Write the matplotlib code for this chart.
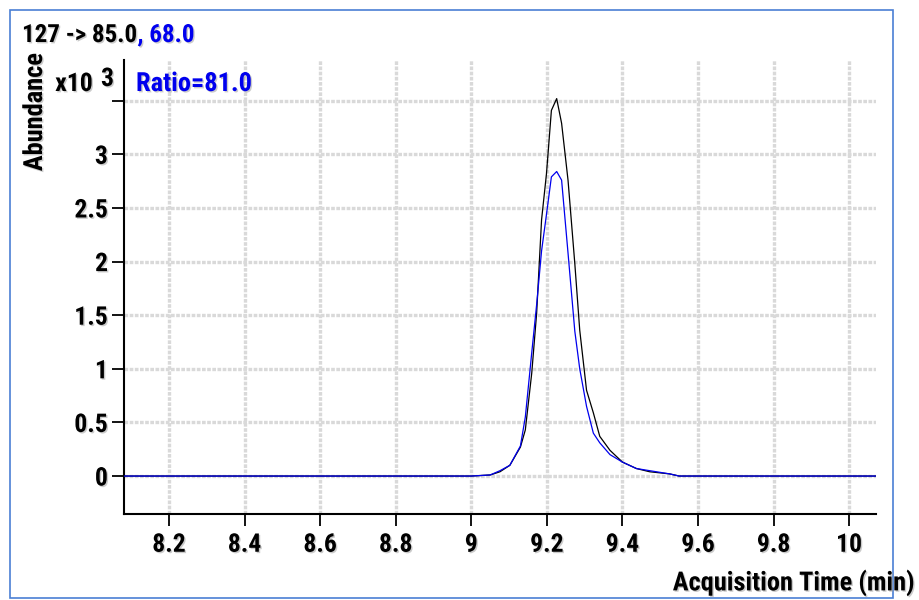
import matplotlib
matplotlib.use("Agg")
import matplotlib.pyplot as plt
import matplotlib.patheffects as pe
from matplotlib.patches import Rectangle

# Data (abundance in units of x10^3)
time_min = [8.08, 9.00, 9.05, 9.076, 9.102, 9.13, 9.143, 9.16, 9.173, 9.186,
            9.199, 9.212, 9.226, 9.239, 9.256, 9.274, 9.287, 9.305, 9.323, 9.34,
            9.367, 9.40, 9.437, 9.472, 9.525, 9.55, 10.07]
quant_85 = [0, 0, 0.01, 0.04, 0.10, 0.27, 0.43, 0.96, 1.52, 2.39,
            2.82, 3.41, 3.52, 3.29, 2.76, 1.98, 1.36, 0.80, 0.59, 0.37,
            0.24, 0.13, 0.07, 0.04, 0.02, 0, 0]
qual_68 = [0, 0, 0.01, 0.05, 0.10, 0.28, 0.55, 1.15, 1.60, 2.10,
           2.44, 2.79, 2.84, 2.76, 2.08, 1.35, 1.00, 0.65, 0.40, 0.31,
           0.20, 0.13, 0.07, 0.05, 0.02, 0, 0]

x_ticks = [8.2, 8.4, 8.6, 8.8, 9.0, 9.2, 9.4, 9.6, 9.8, 10.0]
x_labels = ["8.2", "8.4", "8.6", "8.8", "9", "9.2", "9.4", "9.6", "9.8", "10"]
y_ticks = [0, 0.5, 1, 1.5, 2, 2.5, 3, 3.5]
y_labels = ["0", "0.5", "1", "1.5", "2", "2.5", "3", ""]

plt.rcParams["font.family"] = ["Roboto Condensed", "DejaVu Sans"]
plt.rcParams["font.weight"] = "bold"

shadow = [pe.withSimplePatchShadow(offset=(1, -1), shadow_rgbFace="#999999", alpha=0.5)]
BLUE = "#0000ee"

fig = plt.figure(figsize=(9.19, 6), dpi=100)
W, H = 919, 600

# blue frame around the panel
fig.patches.append(Rectangle((10 / W, 2 / H), 883 / W, 588 / H, transform=fig.transFigure,
                             fill=False, edgecolor="#4a7fd4", linewidth=1.2))

ax = fig.add_axes([124 / W, 1 - 514 / H, 752 / W, 454 / H])
ax.set_xlim(8.081, 10.071)
ax.set_ylim(-0.354, 3.88)

ax.plot(time_min, quant_85, color="black", lw=0.9, zorder=3)
ax.plot(time_min, qual_68, color=BLUE, lw=0.9, zorder=4)

ax.set_xticks(x_ticks)
ax.set_xticklabels(x_labels)
ax.set_yticks(y_ticks)
ax.set_yticklabels(y_labels)
ax.grid(True, color="#d9d9d9", lw=2.4, linestyle=(0, (1.1, 0.45)), zorder=0)
ax.set_axisbelow(True)

for s in ["top", "right"]:
    ax.spines[s].set_visible(False)
for s in ["left", "bottom"]:
    ax.spines[s].set_linewidth(1.5)
ax.tick_params(axis="both", direction="out", length=8.5, width=1.3, labelsize=18.5)
ax.tick_params(axis="x", pad=5)
ax.tick_params(axis="y", pad=3)
for lbl in ax.get_xticklabels() + ax.get_yticklabels():
    lbl.set_path_effects(shadow)

# titles and labels
t1 = fig.text(22 / W, 1 - 35 / H, "127 -> 85.0", fontsize=18, va="center", ha="left",
              path_effects=shadow)
ax.annotate(", 68.0", xy=(1, 0), xycoords=t1, va="bottom", ha="left", fontsize=18,
            color=BLUE, path_effects=shadow)

fig.text(35 / W, 1 - 112 / H, "Abundance", rotation=90, fontsize=19, va="center",
         ha="center", path_effects=shadow)
fig.text(93 / W, 1 - 84 / H, "x10", fontsize=18.5, va="center", ha="right", path_effects=shadow)
fig.text(101 / W, 1 - 79 / H, "3", fontsize=18.5, va="center", ha="left", path_effects=shadow)
fig.text(136 / W, 1 - 84 / H, "Ratio=81.0", fontsize=19, va="center", ha="left",
         color=BLUE, path_effects=shadow)
fig.text(915 / W, 1 - 583 / H, "Acquisition Time (min)", fontsize=19, va="center",
         ha="right", path_effects=shadow)

fig.savefig("out.png", dpi=100)
